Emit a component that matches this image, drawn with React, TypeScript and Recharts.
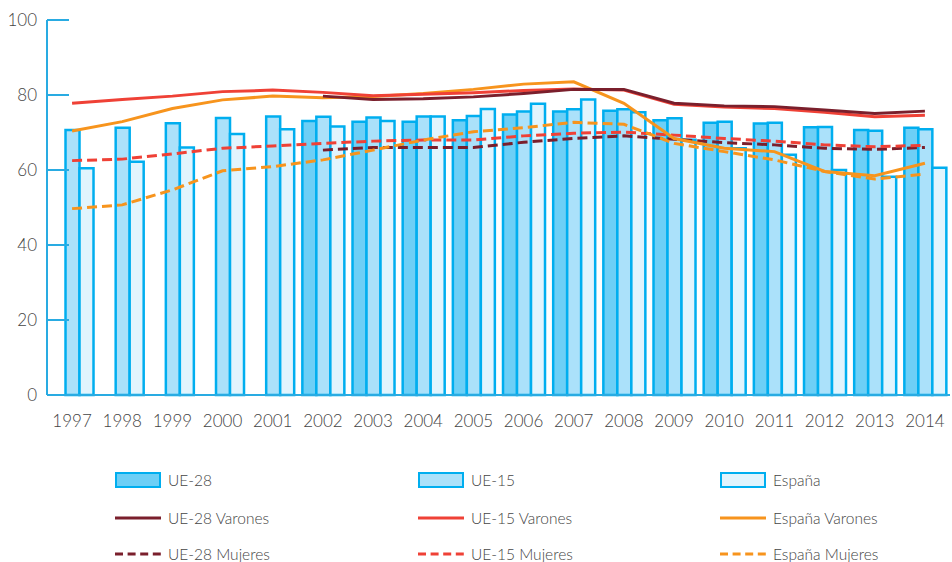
import React from 'react';
import { ComposedChart, Bar, Line, XAxis, YAxis, Legend } from 'recharts';

const years = ['1997','1998','1999','2000','2001','2002','2003','2004','2005','2006','2007','2008','2009','2010','2011','2012','2013','2014'];
const ue28 = [null,null,null,null,null,73.1,72.9,72.9,73.3,74.8,75.6,75.8,73.3,72.6,72.4,71.4,70.7,71.3];
const ue15 = [70.7,71.3,72.5,73.9,74.3,74.2,74.0,74.3,74.4,75.6,76.2,76.2,73.8,72.9,72.6,71.5,70.5,70.9];
const espana = [60.5,62.2,66.0,69.6,70.9,71.6,73.1,74.3,76.3,77.7,78.8,75.4,68.1,65.8,64.1,60.0,58.2,60.6];
const ue28Varones = [null,null,null,null,null,79.7,78.8,79.0,79.5,80.4,81.5,81.5,77.8,77.1,76.9,76.0,75.1,75.7];
const ue15Varones = [77.8,78.8,79.7,80.9,81.3,80.7,79.8,80.2,80.6,81.2,81.6,81.3,77.5,76.8,76.4,75.4,74.2,74.6];
const espanaVarones = [70.4,72.9,76.4,78.7,79.7,79.3,79.6,80.4,81.5,82.9,83.5,77.8,68.4,65.8,64.9,59.6,58.5,61.8];
const ue28Mujeres = [null,null,null,null,null,65.3,66.0,66.0,66.0,67.4,68.4,69.1,68.2,67.3,66.7,65.8,65.5,66.0];
const ue15Mujeres = [62.5,62.9,64.3,65.8,66.4,67.1,67.7,68.0,68.0,69.1,69.8,70.1,69.3,68.4,67.7,66.7,66.2,66.6];
const espanaMujeres = [49.7,50.7,54.7,59.8,60.9,62.7,65.3,68.0,70.2,71.3,72.7,72.2,67.1,64.9,62.7,59.6,57.6,58.9];
const yTicks = [0, 20, 40, 60, 80, 100];

const data = years.map((y, i) => ({
  year: y,
  ue28: ue28[i],
  ue15: ue15[i],
  espana: espana[i],
  ue28V: ue28Varones[i],
  ue15V: ue15Varones[i],
  espV: espanaVarones[i],
  ue28M: ue28Mujeres[i],
  ue15M: ue15Mujeres[i],
  espM: espanaMujeres[i],
}));

const AXIS = '#29abe2';
const BAR_STROKE = '#00aeef';
const C_UE28 = '#6dcff6';
const C_UE15 = '#abe1fa';
const C_ESP = '#e1f4fd';
const C_DARK = '#7a1f2c';
const C_RED = '#ef4136';
const C_ORANGE = '#f7941d';
const FONT = 'Lato, "Open Sans", sans-serif';
const TEXT = '#444444';

const YTick = (props: any) => {
  const { x, y, payload } = props;
  return (
    <g>
      <line x1={x} x2={x + 22} y1={y} y2={y} stroke={AXIS} strokeWidth={2} />
      <text x={x - 10} y={y} dy={6} textAnchor="end" fontSize={17} fontWeight={300} fontFamily={FONT} fill={TEXT}>
        {payload.value}
      </text>
    </g>
  );
};

const legendItems = [
  { label: 'UE-28', kind: 'bar', color: C_UE28 },
  { label: 'UE-15', kind: 'bar', color: C_UE15 },
  { label: 'España', kind: 'bar', color: C_ESP },
  { label: 'UE-28 Varones', kind: 'line', color: C_DARK },
  { label: 'UE-15 Varones', kind: 'line', color: C_RED },
  { label: 'España Varones', kind: 'line', color: C_ORANGE },
  { label: 'UE-28 Mujeres', kind: 'dash', color: C_DARK },
  { label: 'UE-15 Mujeres', kind: 'dash', color: C_RED },
  { label: 'España Mujeres', kind: 'dash', color: C_ORANGE },
];
const colX = [115, 418, 720];
const rowY = [20, 58, 94];

const LegendContent = () => (
  <div style={{ position: 'relative', width: 952, height: 110 }}>
    {legendItems.map((it, i) => {
      const c = i % 3;
      const r = Math.floor(i / 3);
      return (
        <div key={it.label} style={{ position: 'absolute', left: colX[c], top: rowY[r] - 10, height: 20, display: 'flex', alignItems: 'center' }}>
          <svg width={46} height={20} style={{ display: 'block' }}>
            {it.kind === 'bar' && (
              <rect x={1} y={3} width={44} height={14} fill={it.color} stroke={BAR_STROKE} strokeWidth={2} />
            )}
            {it.kind === 'line' && (
              <line x1={0} x2={46} y1={10} y2={10} stroke={it.color} strokeWidth={3} />
            )}
            {it.kind === 'dash' && (
              <line x1={0} x2={46} y1={10} y2={10} stroke={it.color} strokeWidth={3} strokeDasharray="8 4.6" />
            )}
          </svg>
          <span style={{ marginLeft: 7, fontFamily: FONT, fontSize: 15.5, fontWeight: 300, color: TEXT, whiteSpace: 'nowrap' }}>{it.label}</span>
        </div>
      );
    })}
  </div>
);

export default function App() {
  return (
    <div style={{ position: 'absolute', left: 0, top: 0, width: 952, height: 562, background: '#fff' }}>
      <ComposedChart
        width={952}
        height={562}
        data={data}
        margin={{ top: 20, right: 2, left: 0, bottom: 132 }}
        barCategoryGap="9%"
        barGap={0}
      >
        <XAxis
          dataKey="year"
          axisLine={{ stroke: AXIS, strokeWidth: 2 }}
          tickLine={false}
          tick={{ fontSize: 17, fontWeight: 300, fontFamily: FONT, fill: TEXT }}
          tickMargin={14}
          height={35}
          interval={0}
        />
        <YAxis
          domain={[0, 100]}
          ticks={yTicks}
          width={47}
          axisLine={{ stroke: AXIS, strokeWidth: 2 }}
          tickLine={false}
          tickSize={0}
          tickMargin={0}
          tick={<YTick />}
          interval={0}
        />
        <Bar dataKey="ue28" name="UE-28" fill={C_UE28} stroke={BAR_STROKE} strokeWidth={2.5} isAnimationActive={false} />
        <Bar dataKey="ue15" name="UE-15" fill={C_UE15} stroke={BAR_STROKE} strokeWidth={2.5} isAnimationActive={false} />
        <Bar dataKey="espana" name="España" fill={C_ESP} stroke={BAR_STROKE} strokeWidth={2.5} isAnimationActive={false} />
        <Line dataKey="ue28M" name="UE-28 Mujeres" stroke={C_DARK} strokeWidth={3} strokeDasharray="10 5" dot={false} activeDot={false} isAnimationActive={false} />
        <Line dataKey="ue15M" name="UE-15 Mujeres" stroke={C_RED} strokeWidth={3} strokeDasharray="10 5" dot={false} activeDot={false} isAnimationActive={false} />
        <Line dataKey="espM" name="España Mujeres" stroke={C_ORANGE} strokeWidth={3} strokeDasharray="10 5" dot={false} activeDot={false} isAnimationActive={false} />
        <Line dataKey="espV" name="España Varones" stroke={C_ORANGE} strokeWidth={3} dot={false} activeDot={false} isAnimationActive={false} />
        <Line dataKey="ue15V" name="UE-15 Varones" stroke={C_RED} strokeWidth={3} dot={false} activeDot={false} isAnimationActive={false} />
        <Line dataKey="ue28V" name="UE-28 Varones" stroke={C_DARK} strokeWidth={3} dot={false} activeDot={false} isAnimationActive={false} />
        <Legend
          layout="horizontal"
          verticalAlign="middle"
          align="center"
          content={<LegendContent />}
          wrapperStyle={{ top: 460, left: 0, width: 952, height: 110 }}
        />
      </ComposedChart>
    </div>
  );
}
